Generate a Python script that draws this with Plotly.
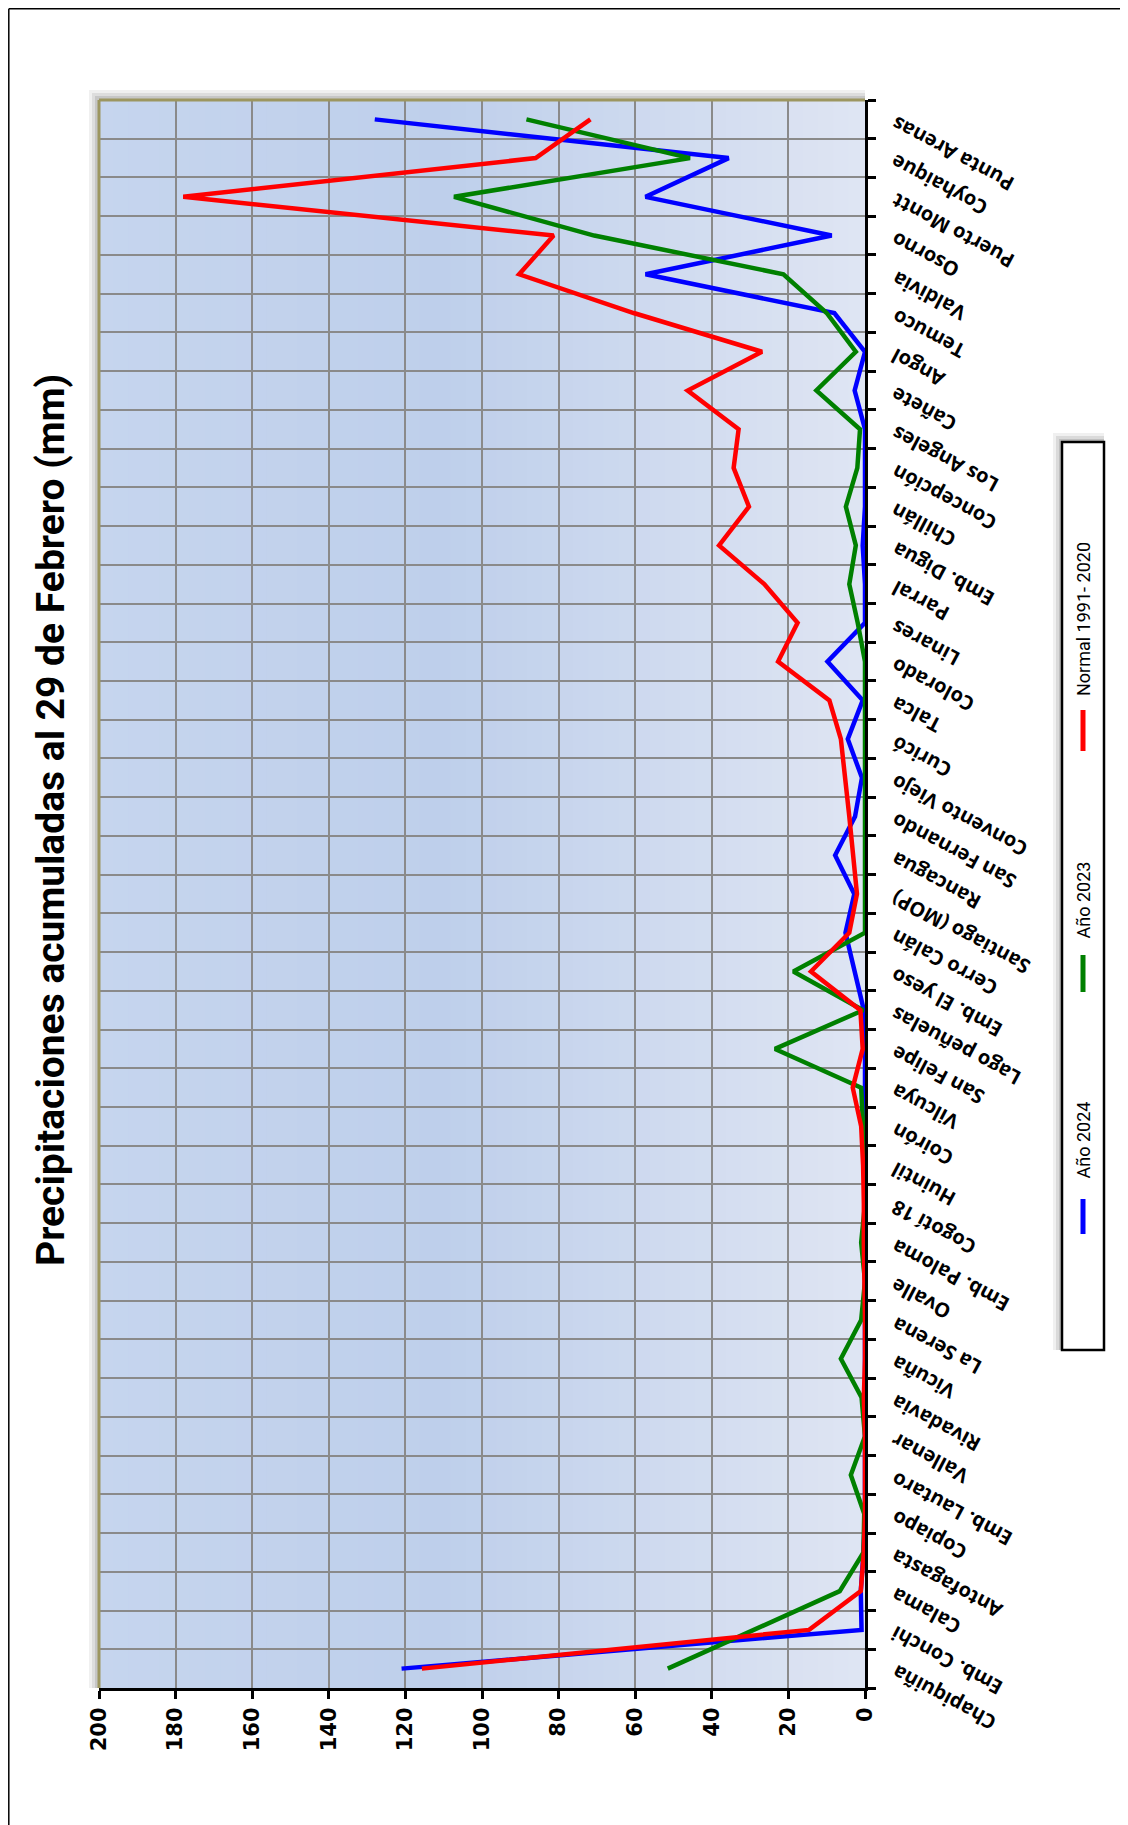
import plotly.graph_objects as go

categories = ["Chapiquiña", "Emb. Conchi", "Calama", "Antofagasta", "Copiapo", "Emb. Lautaro",
              "Vallenar", "Rivadavia", "Vicuña", "La Serena", "Ovalle", "Emb. Paloma", "Cogotí 18",
              "Huintil", "Coirón", "Vilcuya", "San Felipe", "Lago peñuelas", "Emb. El yeso",
              "Cerro Calán", "Santiago (MOP)", "Rancagua", "San Fernando", "Convento Viejo", "Curicó",
              "Talca", "Colorado", "Linares", "Parral", "Emb. Digua", "Chillán", "Concepción",
              "Los Angeles", "Cañete", "Angol", "Temuco", "Valdivia", "Osorno", "Puerto Montt",
              "Coyhaique", "Punta Arenas"]

anio_2024 = [121, 0.9, 1.1, 0.4, 0, 0, 0, 0, 0, 0,
             0, 0, 0, 0, 0, 0, 0, 0.3, 2.8, 5.1,
             2.8, 7.8, 2.6, 0.8, 4.5, 0.6, 9.8, 0, 0, 0.6,
             0, 0, 0, 2.7, 0, 8, 57.3, 8.7, 57.3, 35.6,
             128]
anio_2023 = [51.5, 29, 6.6, 0.4, 0.2, 3.7, 0, 0.9, 6.3, 1,
             0, 1, 0, 0, 0.5, 1, 23.5, 0.5, 18.7, 0,
             0, 0, 0, 0, 0, 0, 0, 1.9, 4.1, 2.4,
             5, 2, 1.3, 12.7, 2.4, 10, 21.3, 70.7, 107.3, 45.7,
             88.4]
normal = [115.7, 14.6, 1.1, 0.3, 0, 0, 0, 0.3, 0, 0,
          0.2, 0.3, 0.3, 0.5, 1, 3.2, 0.6, 1.2, 14.1, 4.1,
          2.1, 3, 4.1, 5.2, 6.3, 9.3, 22.7, 17.6, 26.3, 38.1,
          30.3, 34.3, 33, 46.3, 26.9, 60.4, 90.3, 81.3, 178, 86,
          71.7]

x_ticks = list(range(0, 201, 20))
series_names = ["Año 2024", "Año 2023", "Normal 1991- 2020"]
series_colors = ["#0000ff", "#008000", "#ff0000"]
title_text = "Precipitaciones acumuladas al 29 de Febrero (mm)"

W, H = 1128, 1825
OFF = 8  # page body margin
L, R, T, B = 99, 865, 100, 1688


def px(v):
    return (v - L) / (R - L)


def py(v):
    return (B - v) / (B - T)


fig = go.Figure()
for name, vals, col in zip(series_names, [anio_2024, anio_2023, normal], series_colors):
    fig.add_trace(go.Scatter(x=vals, y=categories, mode="lines", name=name,
                             line=dict(color=col, width=4.5), showlegend=False))

shapes = []
# shadow of plot area
for k, a in [(10, 0.06), (7, 0.08), (4, 0.10)]:
    shapes.append(dict(type="rect", xref="paper", yref="paper", layer="below",
                       x0=px(L - k), x1=px(R), y0=py(B), y1=py(T - k),
                       fillcolor=f"rgba(0,0,0,{a})", line=dict(width=0)))


# gradient background
def bg_color(v):
    stops = [(200, (198, 213, 238)), (110, (190, 207, 235)), (0, (223, 229, 243))]
    for (v0, c0), (v1, c1) in zip(stops[:-1], stops[1:]):
        if v1 <= v <= v0:
            t = (v0 - v) / (v0 - v1)
            return "rgb(%d,%d,%d)" % tuple(round(c0[i] + (c1[i] - c0[i]) * t) for i in range(3))
    return "rgb(223,229,243)"


n = 50
for i in range(n):
    a = 200 - i * 200 / n
    b = 200 - (i + 1) * 200 / n
    shapes.append(dict(type="rect", xref="x", yref="paper", layer="below",
                       x0=a + 0.3, x1=b - 0.3, y0=0, y1=1,
                       fillcolor=bg_color((a + b) / 2), line=dict(width=0)))

# olive border top & left
shapes.append(dict(type="line", xref="paper", yref="paper", x0=0, x1=1, y0=1, y1=1,
                   line=dict(color="#9c9660", width=3)))
shapes.append(dict(type="line", xref="paper", yref="paper", x0=0, x1=0, y0=0, y1=1,
                   line=dict(color="#9c9660", width=3)))

# outer frame (as close to the page corner as the figure allows)
shapes.append(dict(type="line", xref="paper", yref="paper", x0=px(OFF + 0.8), x1=px(W + 5),
                   y0=py(OFF + 0.8), y1=py(OFF + 0.8), line=dict(color="black", width=1.5)))
shapes.append(dict(type="line", xref="paper", yref="paper", x0=px(OFF + 0.8), x1=px(OFF + 0.8),
                   y0=py(OFF + 0.8), y1=py(H + 5), line=dict(color="black", width=1.5)))

# legend box with shadow
for k, a in [(9, 0.06), (6, 0.09), (3, 0.12)]:
    shapes.append(dict(type="rect", xref="paper", yref="paper", layer="below",
                       x0=px(1062 - k), x1=px(1104), y0=py(1350), y1=py(442 - k),
                       fillcolor=f"rgba(0,0,0,{a})", line=dict(width=0)))
shapes.append(dict(type="rect", xref="paper", yref="paper",
                   x0=px(1062), x1=px(1104), y0=py(1350), y1=py(442),
                   fillcolor="white", line=dict(color="black", width=2.5)))

annotations = []
legend_pos = [(1234, 1199, 1181), (992, 955, 941), (751, 710, 698)]
for name, col, (l0, l1, tb) in zip(series_names, series_colors, legend_pos):
    shapes.append(dict(type="line", xref="paper", yref="paper", x0=px(1083), x1=px(1083),
                       y0=py(l0), y1=py(l1), line=dict(color=col, width=5)))
    annotations.append(dict(xref="paper", yref="paper", x=px(1083), y=py(tb),
                            xanchor="center", yanchor="bottom", textangle=-90, showarrow=False,
                            text=name,
                            font=dict(family="Liberation Sans Narrow, Roboto, sans-serif",
                                      size=18, color="black")))

# category labels (upside-down diagonal, as in the reference)
for c in categories:
    annotations.append(dict(xref="paper", yref="y", x=px(884), y=c, yshift=12,
                            xanchor="left", yanchor="top", textangle=-152, showarrow=False,
                            text=c,
                            font=dict(family="Open Sans", size=20, color="black", weight=700)))

annotations.append(dict(xref="paper", yref="paper", x=px(51), y=py(820), textangle=-90,
                        showarrow=False, xanchor="center", yanchor="middle",
                        text="<b>%s</b>" % title_text,
                        font=dict(family="Liberation Sans Narrow, Roboto, sans-serif",
                                  size=39, color="black")))

fig.update_layout(
    width=W - OFF, height=H - OFF,
    margin=dict(l=L - OFF, r=W - R, t=T - OFF, b=H - B),
    paper_bgcolor="white",
    plot_bgcolor="rgb(223,229,243)",
    shapes=shapes,
    annotations=annotations,
    xaxis=dict(range=[200, 0], tickvals=x_ticks, ticktext=[str(v) for v in x_ticks],
               tickangle=-90, showgrid=True, gridcolor="#8a8a8a", gridwidth=1.5,
               showline=True, linecolor="black", linewidth=3,
               ticks="outside", ticklen=8, tickwidth=3, tickcolor="black",
               tickfont=dict(family="DejaVu Sans", size=21, color="black", weight="bold"),
               zeroline=False, fixedrange=True),
    yaxis=dict(type="category", categoryorder="array", categoryarray=categories,
               range=[-0.5, len(categories) - 0.5], side="right", tickson="boundaries",
               showticklabels=False, showgrid=True, gridcolor="#8a8a8a", gridwidth=1.5,
               showline=True, linecolor="black", linewidth=3,
               ticks="outside", ticklen=8, tickwidth=3, tickcolor="black",
               zeroline=False, fixedrange=True),
)

fig.write_html("out.html")
